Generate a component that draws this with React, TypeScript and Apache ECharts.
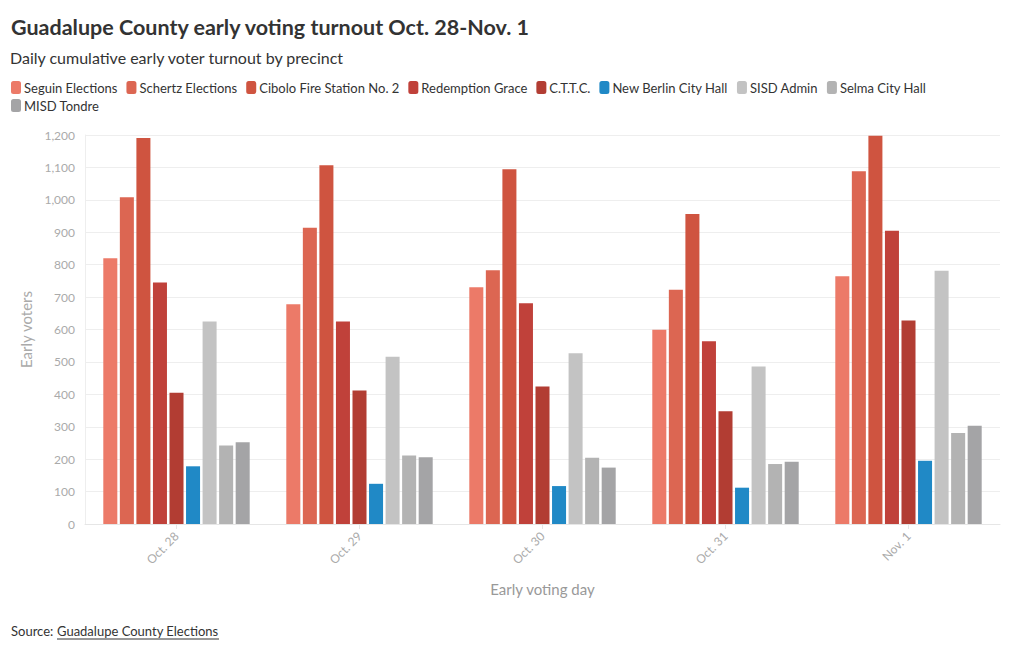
import React, { useEffect, useRef } from "react";
import * as echarts from "echarts";

const days = ["Oct. 28", "Oct. 29", "Oct. 30", "Oct. 31", "Nov. 1"];
const precincts = [
  "Seguin Elections",
  "Schertz Elections",
  "Cibolo Fire Station No. 2",
  "Redemption Grace",
  "C.T.T.C.",
  "New Berlin City Hall",
  "SISD Admin",
  "Selma City Hall",
  "MISD Tondre",
];
const seguin = [820, 678, 730, 599, 764];
const schertz = [1008, 914, 783, 723, 1088];
const cibolo = [1191, 1107, 1094, 956, 1198];
const redemption = [745, 625, 681, 564, 905];
const cttc = [405, 412, 424, 348, 628];
const newBerlin = [178, 124, 117, 112, 195];
const sisd = [625, 516, 527, 486, 781];
const selma = [242, 211, 204, 185, 281];
const misd = [252, 206, 174, 192, 303];
const seriesValues = [seguin, schertz, cibolo, redemption, cttc, newBerlin, sisd, selma, misd];
const colors = ["#ec7a68", "#dc6652", "#cf5440", "#c0413a", "#b23d33", "#2089c6", "#c3c3c3", "#b3b3b3", "#a4a4a6"];
const yTicks = [0, 100, 200, 300, 400, 500, 600, 700, 800, 900, 1000, 1100, 1200];

const FONT = "Lato, 'Source Sans Pro', 'Noto Sans', sans-serif";

const legendBase = {
  left: 6,
  itemWidth: 10,
  itemHeight: 13,
  itemGap: 9,
  icon: "roundRect",
  textStyle: { fontSize: 13, color: "#333", fontFamily: FONT, padding: [0, 0, 0, -2] },
};

export default function App() {
  const ref = useRef<HTMLDivElement>(null);
  useEffect(() => {
    if (!ref.current) return;
    const chart = echarts.init(ref.current, undefined, { renderer: "svg" });
    chart.setOption({
      animation: false,
      textStyle: { fontFamily: FONT },
      title: [
        {
          text: "Guadalupe County early voting turnout Oct. 28-Nov. 1",
          left: 6,
          top: 11,
          textStyle: { fontSize: 21.5, fontWeight: "bold", color: "#333", fontFamily: FONT },
        },
        {
          text: "Daily cumulative early voter turnout by precinct",
          left: 5,
          top: 44,
          textStyle: { fontSize: 16, fontWeight: "normal", color: "#333", fontFamily: FONT },
        },
      ],
      legend: [
        { ...legendBase, top: 76, data: precincts.slice(0, 8) },
        { ...legendBase, top: 94, data: precincts.slice(8) },
      ],
      grid: { left: 85, right: 20, top: 135, bottom: 126 },
      xAxis: {
        type: "category",
        data: days,
        name: "Early voting day",
        nameLocation: "middle",
        nameGap: 57,
        nameTextStyle: { fontSize: 15, color: "#999", fontFamily: FONT },
        axisLine: { show: true, lineStyle: { color: "#e6e6e6" } },
        axisTick: { show: true, alignWithLabel: true, length: 5, lineStyle: { color: "#e6e6e6" } },
        axisLabel: { rotate: 45, color: "#aaa", fontSize: 12, margin: 10, fontFamily: FONT },
      },
      yAxis: {
        type: "value",
        min: 0,
        max: 1200,
        interval: 100,
        name: "Early voters",
        nameLocation: "middle",
        nameGap: 52,
        nameTextStyle: { fontSize: 15, color: "#aaa", fontFamily: FONT },
        axisLine: { show: true, lineStyle: { color: "#eeeeee" } },
        axisTick: { show: false },
        splitLine: { lineStyle: { color: "#eeeeee" } },
        axisLabel: {
          color: "#aaa",
          fontSize: 12,
          margin: 10,
          fontFamily: FONT,
          formatter: (v: number) => (yTicks.includes(v) ? v.toLocaleString("en-US") : ""),
        },
      },
      series: precincts.map((name, i) => ({
        name,
        type: "bar",
        data: seriesValues[i],
        itemStyle: { color: colors[i] },
        barGap: "18%",
        barCategoryGap: "20%",
      })),
      graphic: [
        {
          type: "text",
          left: 11,
          top: 624,
          style: { text: "Source: ", fontSize: 13, fill: "#333", fontFamily: FONT },
        },
        {
          type: "text",
          left: 57,
          top: 624,
          style: { text: "Guadalupe County Elections", fontSize: 13, fill: "#333", fontFamily: FONT },
        },
        {
          type: "line",
          shape: { x1: 57, y1: 639, x2: 219, y2: 639 },
          style: { stroke: "#333", lineWidth: 1 },
        },
      ],
    });
    return () => chart.dispose();
  }, []);
  return (
    <div
      ref={ref}
      style={{ position: "fixed", left: 0, top: 0, width: 1020, height: 650, background: "#fff" }}
    />
  );
}
